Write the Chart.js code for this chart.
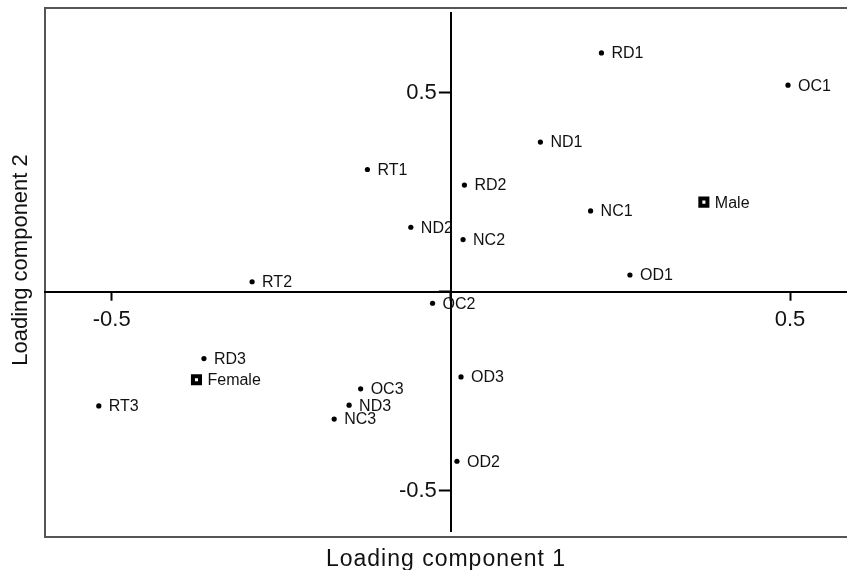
<!DOCTYPE html>
<html>
<head>
<meta charset="utf-8">
<script src="https://cdn.jsdelivr.net/npm/chart.js@4.4.1/dist/chart.umd.min.js"></script>
<style>
  html, body { margin: 0; padding: 0; background: #fff; }
  #wrap { width: 847px; height: 570px; }
</style>
</head>
<body>
<div id="wrap"><canvas id="biplot" width="847" height="570"></canvas></div>
<script>
// loadings (component 1 = x, component 2 = y)
const variableNames = ['RD1', 'OC1', 'ND1', 'RT1', 'RD2', 'NC1', 'ND2', 'NC2', 'OD1', 'RT2',
                       'OC2', 'RD3', 'OD3', 'OC3', 'RT3', 'ND3', 'NC3', 'OD2'];
const variableLoading1 = [0.222, 0.497, 0.132, -0.123, 0.020, 0.206, -0.059, 0.018, 0.264, -0.293,
                          -0.027, -0.364, 0.015, -0.133, -0.519, -0.150, -0.172, 0.009];
const variableLoading2 = [0.600, 0.519, 0.376, 0.307, 0.268, 0.203, 0.162, 0.131, 0.042, 0.025,
                          -0.029, -0.168, -0.214, -0.244, -0.287, -0.285, -0.320, -0.426];

const sexNames = ['Male', 'Female'];
const sexLoading1 = [0.373, -0.375];
const sexLoading2 = [0.225, -0.221];

const axisTicks = [-0.5, 0, 0.5];
const xTitle = 'Loading component 1';
const yTitle = 'Loading component 2';

const FONT = "'Liberation Sans', Arial, sans-serif";

function toPoints(xs, ys) {
    return xs.map((v, i) => ({ x: v, y: ys[i] }));
}

// axes take no room in the layout, the plot box is set by the padding only
function noRoom(s) {
    if (s.isHorizontal()) s.height = 0; else s.width = 0;
    s.paddingTop = s.paddingBottom = s.paddingLeft = s.paddingRight = 0;
}

// move the two axes so they cross at (0, 0) instead of sitting on the frame
const crossAxes = {
    id: 'crossAxes',
    afterLayout(chart) {
        const { x, y } = chart.scales;
        const area = chart.chartArea;
        const x0 = x.getPixelForValue(0);
        const y0 = y.getPixelForValue(0);
        y.right = x0;
        y.left = x0 - 150;
        y.top = area.top + 5;
        y.bottom = area.bottom - 6;
        x.top = y0;
        x.bottom = y0 + 60;
    }
};

// box round the plot; its right side is outside the picture
const frame = {
    id: 'frame',
    beforeDraw(chart) {
        const { ctx, chartArea: a } = chart;
        ctx.save();
        ctx.strokeStyle = '#555';
        ctx.lineWidth = 2;
        ctx.beginPath();
        ctx.moveTo(a.right + 2, a.top);
        ctx.lineTo(a.left, a.top);
        ctx.lineTo(a.left, a.bottom);
        ctx.lineTo(a.right + 2, a.bottom);
        ctx.stroke();
        ctx.restore();
    }
};

const pointLabels = {
    id: 'pointLabels',
    afterDatasetsDraw(chart) {
        const ctx = chart.ctx;
        const names = [variableNames, sexNames];
        ctx.save();
        ctx.font = '16px ' + FONT;
        ctx.fillStyle = '#111';
        ctx.textAlign = 'left';
        ctx.textBaseline = 'middle';
        chart.data.datasets.forEach((ds, di) => {
            chart.getDatasetMeta(di).data.forEach((pt, i) => {
                ctx.fillText(names[di][i], pt.x + (di ? 11 : 10), pt.y + 1);
            });
        });
        ctx.restore();
    }
};

const axisTitles = {
    id: 'axisTitles',
    afterDraw(chart) {
        const ctx = chart.ctx;
        ctx.save();
        ctx.fillStyle = '#111';
        ctx.textAlign = 'center';
        ctx.textBaseline = 'alphabetic';
        ctx.font = '23px ' + FONT;
        ctx.letterSpacing = '1px';
        ctx.fillText(xTitle, 446, 566);
        ctx.letterSpacing = '0px';
        ctx.font = '22px ' + FONT;
        ctx.translate(27, 260);
        ctx.rotate(-Math.PI / 2);
        ctx.fillText(yTitle, 0, 0);
        ctx.restore();
    }
};

const tickLabel = v => (v === 0 ? '' : String(v));

new Chart(document.getElementById('biplot').getContext('2d'), {
    type: 'scatter',
    data: {
        datasets: [
            {
                label: 'Variables',
                data: toPoints(variableLoading1, variableLoading2),
                pointStyle: 'circle',
                pointRadius: 2.6,
                backgroundColor: '#000',
                borderColor: '#000',
                borderWidth: 0
            },
            {
                label: 'Sex',
                data: toPoints(sexLoading1, sexLoading2),
                pointStyle: 'rect',
                pointRadius: 5,
                backgroundColor: '#fff',
                borderColor: '#000',
                borderWidth: 4
            }
        ]
    },
    options: {
        responsive: false,
        animation: false,
        layout: { autoPadding: false, padding: { left: 45, top: 8, right: 0, bottom: 33 } },
        plugins: { legend: { display: false }, tooltip: { enabled: false } },
        scales: {
            x: {
                type: 'linear',
                position: 'bottom',
                min: -0.5983,
                max: 0.584,
                afterBuildTicks: s => { s.ticks = axisTicks.map(v => ({ value: v })); },
                afterFit: noRoom,
                ticks: { callback: tickLabel, font: { size: 22, family: FONT }, color: '#111', padding: 6, maxRotation: 0 },
                grid: { drawOnChartArea: false, drawTicks: true, tickLength: 9, tickColor: '#000', tickWidth: 2 },
                border: { color: '#000', width: 2 }
            },
            y: {
                type: 'linear',
                position: 'left',
                min: -0.6163,
                max: 0.7128,
                afterBuildTicks: s => { s.ticks = axisTicks.map(v => ({ value: v })); },
                afterFit: noRoom,
                ticks: { callback: tickLabel, font: { size: 22, family: FONT }, color: '#111', padding: 2 },
                grid: { drawOnChartArea: false, drawTicks: true, tickLength: 12, tickColor: '#000', tickWidth: 2 },
                border: { color: '#000', width: 2 }
            }
        }
    },
    plugins: [crossAxes, frame, pointLabels, axisTitles]
});
</script>
</body>
</html>
